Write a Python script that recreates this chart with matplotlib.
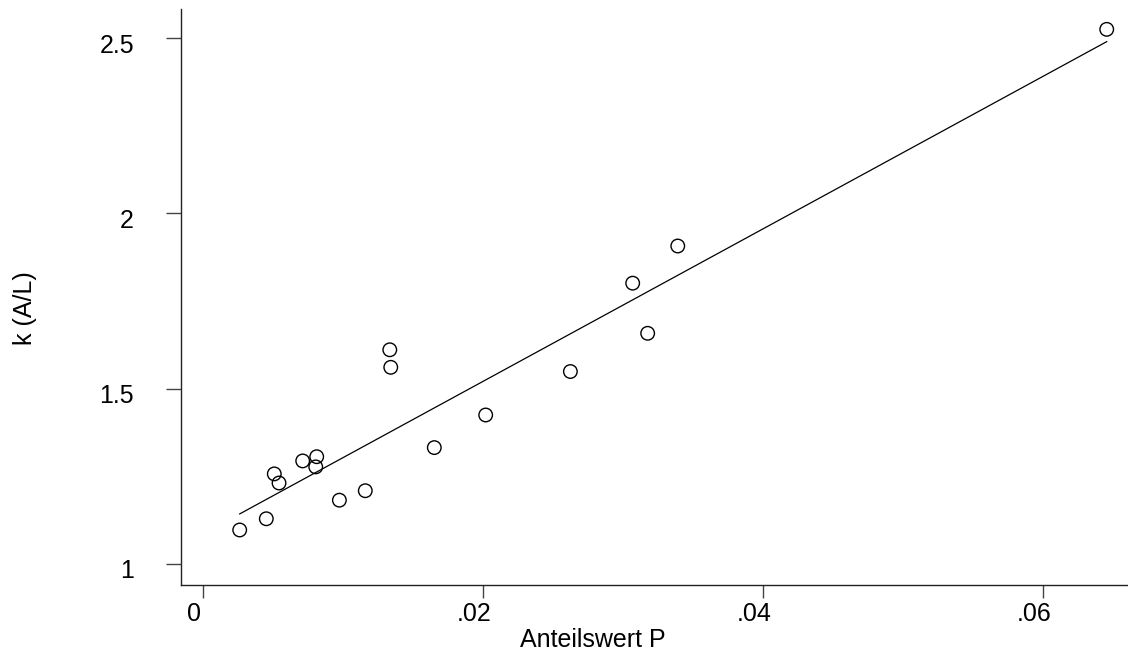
import numpy as np
import matplotlib
matplotlib.use("Agg")
import matplotlib.pyplot as plt
from matplotlib.transforms import ScaledTranslation

# Anteilswert P und k (A/L)
anteil_p = [0.00262, 0.00452, 0.00509, 0.00543, 0.00712, 0.00812, 0.00805,
            0.00974, 0.01159, 0.01334, 0.01341, 0.01652, 0.02019, 0.02624,
            0.03069, 0.03176, 0.03391, 0.06455]
k_al = [1.097, 1.129, 1.257, 1.231, 1.294, 1.306, 1.277, 1.182, 1.209,
        1.611, 1.561, 1.332, 1.425, 1.549, 1.801, 1.658, 1.907, 2.525]

x_ticks = [0, 0.02, 0.04, 0.06]
x_ticklabels = ["0", ".02", ".04", ".06"]
y_ticks = [1, 1.5, 2, 2.5]
y_ticklabels = ["1", "1.5", "2", "2.5"]

plt.rcParams['font.family'] = ['Liberation Sans', 'DejaVu Sans']

fig = plt.figure(figsize=(11.28, 6.53), dpi=100)
ax = fig.add_axes([0.1605, 0.1041, 0.8395, 0.8821])

x = np.array(anteil_p)
y = np.array(k_al)

# lineare Regression
b, a = np.polyfit(x, y, 1)
xs = np.array([x.min(), x.max()])
ax.plot(xs, a + b * xs, color='black', lw=0.9)

ax.scatter(x, y, s=95, facecolors='none', edgecolors='black', linewidths=1.0, zorder=3)

ax.set_xlim(-0.00157, 0.06607)
ax.set_ylim(0.940, 2.583)
ax.set_xticks(x_ticks)
ax.set_xticklabels(x_ticklabels)
ax.set_yticks(y_ticks)
ax.set_yticklabels(y_ticklabels)

for s in ['top', 'right']:
    ax.spines[s].set_visible(False)
for s in ['left', 'bottom']:
    ax.spines[s].set_color('#222222')
    ax.spines[s].set_linewidth(1.0)

ax.tick_params(axis='both', labelsize=18, width=1.0, color='#444444')
ax.tick_params(axis='x', length=9.4, pad=3)
ax.tick_params(axis='y', length=10.8, pad=23)

# Beschriftungen leicht versetzt wie im Original
for lab in ax.get_xticklabels():
    lab.set_transform(lab.get_transform() + ScaledTranslation(-0.09, 0, fig.dpi_scale_trans))
for lab in ax.get_yticklabels():
    lab.set_transform(lab.get_transform() + ScaledTranslation(0, -0.05, fig.dpi_scale_trans))

ax.set_xlabel("Anteilswert P", fontsize=18)
ax.xaxis.set_label_coords(0.435, -0.1076)
ax.xaxis.label.set_va('baseline')
ax.set_ylabel("k (A/L)", fontsize=18)
ax.yaxis.set_label_coords(-0.1647, 0.481)
ax.yaxis.label.set_va('center')

fig.savefig("out.png", dpi=100)
